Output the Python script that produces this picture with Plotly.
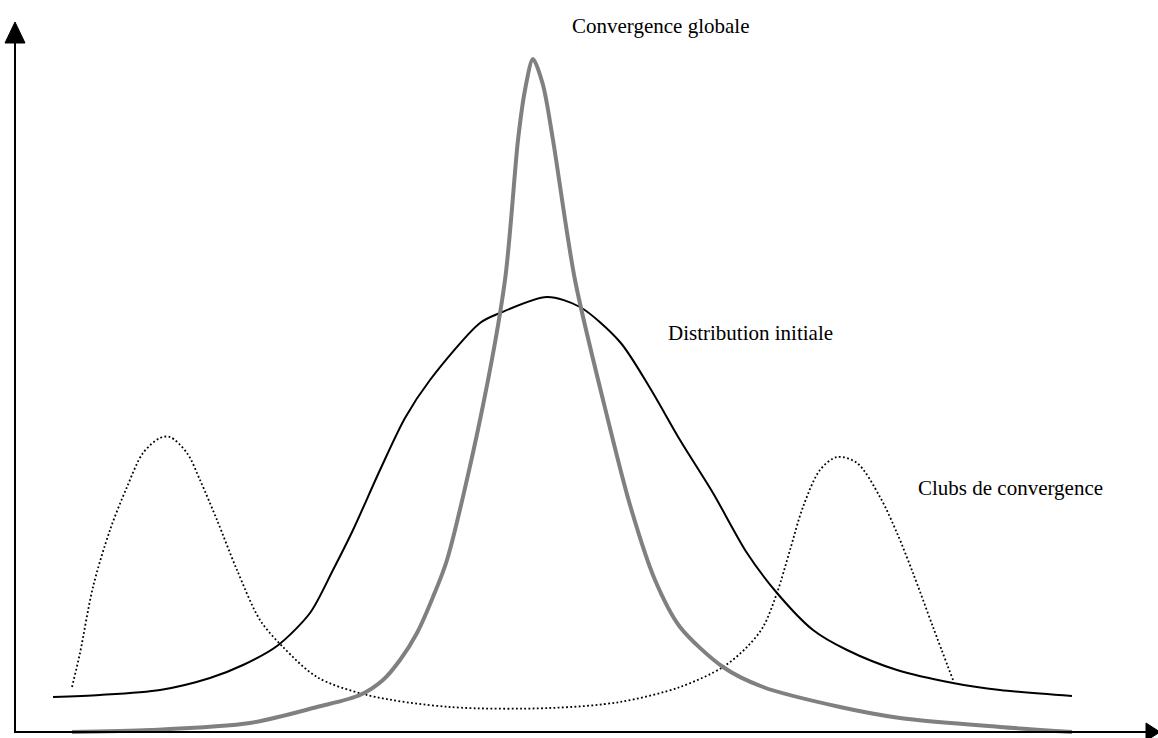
import plotly.graph_objects as go

# Distribution initiale (black solid)
init_x = [53, 100, 160, 210, 243, 277, 310, 333, 353, 380, 405, 430, 480, 500, 547,
          580, 620, 650, 680, 713, 747, 777, 813, 847, 897, 953, 1000, 1072]
init_y = [35, 37, 42, 54, 67, 86, 119, 162, 202, 262, 314, 352, 409, 419, 435,
          425, 390, 344, 292, 239, 179, 139, 102, 82, 62, 49, 42, 36]

# Convergence globale (grey thick)
glob_x = [72, 150, 250, 317, 360, 383, 400, 417, 433, 447, 480, 505, 518, 525, 533,
          543, 553, 575, 608, 630, 655, 680, 723, 763, 840, 900, 1000, 1072]
glob_y = [0, 2, 9, 25, 37, 52, 72, 99, 135, 172, 312, 452, 592, 642, 673,
          647, 592, 452, 312, 227, 152, 105, 65, 45, 25, 14, 5, 0]

# Clubs de convergence (dotted)
club_x = [72, 80, 93, 110, 127, 143, 160, 170, 187, 200, 217, 237, 260, 283, 317, 367,
          450, 550, 620, 680, 723, 747, 763, 777, 790, 803, 820, 837, 857, 880, 897,
          913, 933, 953]
club_y = [45, 79, 145, 202, 245, 279, 294, 295, 279, 252, 212, 162, 112, 85, 55, 37,
          25, 24, 30, 45, 65, 85, 105, 139, 182, 225, 262, 275, 269, 235, 199,
          159, 105, 52]

labels = ["Convergence globale", "Distribution initiale", "Clubs de convergence"]

fig = go.Figure()
fig.add_trace(go.Scatter(x=club_x, y=club_y, mode="lines",
                         line=dict(color="black", width=1.8, dash="1.8px,2.4px", shape="spline", smoothing=0.9),
                         hoverinfo="skip"))
fig.add_trace(go.Scatter(x=init_x, y=init_y, mode="lines",
                         line=dict(color="black", width=2, shape="spline", smoothing=0.8),
                         hoverinfo="skip"))
fig.add_trace(go.Scatter(x=glob_x, y=glob_y, mode="lines",
                         line=dict(color="#808080", width=4, shape="spline", smoothing=0.8),
                         hoverinfo="skip"))

shapes = [
    dict(type="line", x0=15, y0=0, x1=15, y1=690, line=dict(color="black", width=2)),
    dict(type="path", path="M 5 689 L 25 689 L 15 710 Z", fillcolor="black", line=dict(color="black", width=1)),
    dict(type="line", x0=14, y0=0, x1=1148, y1=0, line=dict(color="black", width=2)),
    dict(type="path", path="M 1146 9 L 1146 -9 L 1160 0 Z", fillcolor="black", line=dict(color="black", width=1)),
]

font = dict(family="Liberation Serif, Times New Roman, serif", size=21, color="black")
annotations = [
    dict(x=570, y=706, text=labels[0], showarrow=False, xanchor="left", yanchor="middle", font=font),
    dict(x=666, y=399, text=labels[1], showarrow=False, xanchor="left", yanchor="middle", font=font),
    dict(x=916, y=244, text=labels[2], showarrow=False, xanchor="left", yanchor="middle", font=font),
]

fig.update_layout(
    width=1158, height=738,
    margin=dict(l=0, r=0, t=0, b=0),
    paper_bgcolor="white", plot_bgcolor="white",
    showlegend=False,
    xaxis=dict(range=[0, 1158], visible=False, fixedrange=True),
    yaxis=dict(range=[-6, 732], visible=False, fixedrange=True),
    shapes=shapes,
    annotations=annotations,
)

fig.write_html("out.html", config={"displayModeBar": False},
               post_script="document.body.style.margin='0';document.body.style.overflow='hidden';")
